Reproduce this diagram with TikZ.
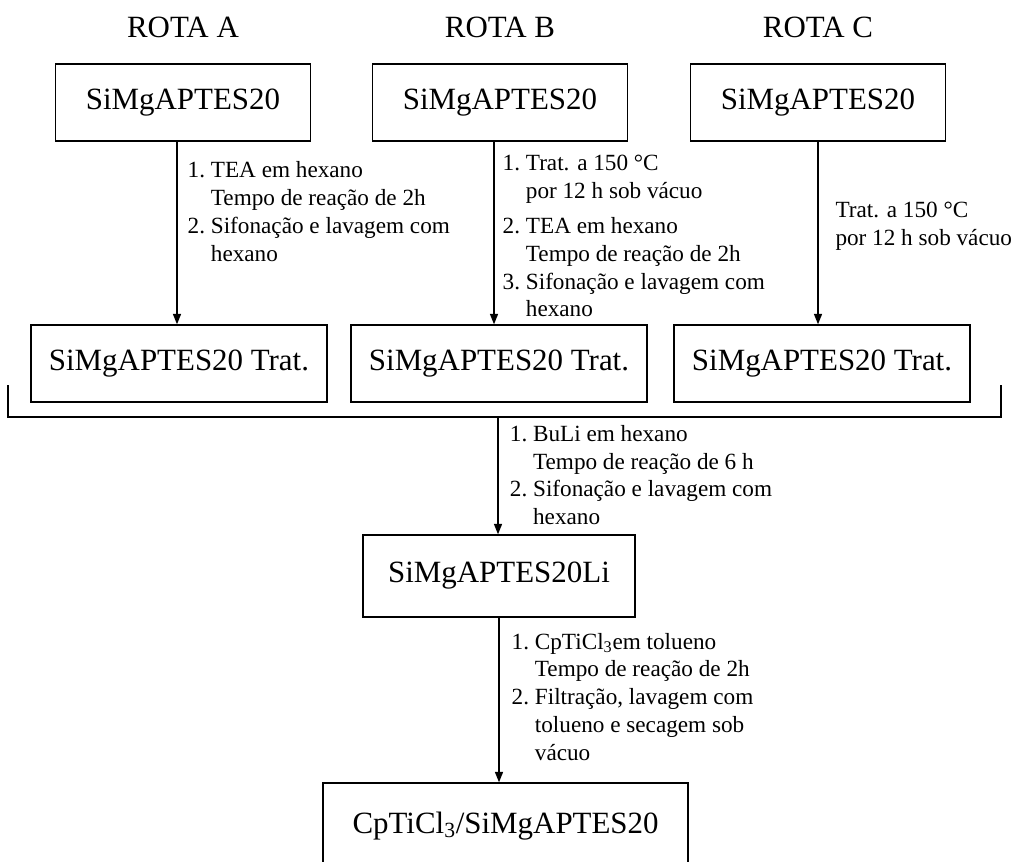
\documentclass[tikz,border=0pt]{standalone}
\usepackage{fontspec}
\setmainfont{Liberation Serif}
\usetikzlibrary{arrows.meta, positioning}
\tikzset{
  every picture/.style={line width=1pt},
  box/.style={draw, align=center, inner sep=0pt, font=\fontsize{22}{26}\selectfont},
  arrow/.style={-{Triangle[length=0.26cm, width=0.2cm]}},
  title/.style={font=\fontsize{22}{26}\selectfont},
  note/.style={font=\fontsize{16.5}{19.8}\selectfont, align=left, inner sep=0pt},
}

\begin{document}
\begin{tikzpicture}[top/.style={box, minimum width=6.375cm, minimum height=1.925cm},
                    trat/.style={box, minimum width=7.4cm, minimum height=1.925cm}]
  \useasboundingbox (0,0) rectangle (25.35,-21.525);
  % routes
  \node[top] (topA) at (4.575,-2.5625) {SiMgAPTES20};
  \node[top] (topB) at (12.5,-2.5625)  {SiMgAPTES20};
  \node[top] (topC) at (20.45,-2.5625) {SiMgAPTES20};
  \node[title, above=0.5cm of topA] (rotaA) {ROTA A};
  \node[title, above=0.5cm of topB] (rotaB) {ROTA B};
  \node[title, above=0.5cm of topC] (rotaC) {ROTA C};
  \node[trat] (tratA) at (4.475,-9.0875) {SiMgAPTES20 Trat.};
  \node[trat] (tratB) at (12.475,-9.0875) {SiMgAPTES20 Trat.};
  \node[trat] (tratC) at (20.55,-9.0875) {SiMgAPTES20 Trat.};
  \draw[arrow] ([xshift=-0.15cm]topA.south) -- ([xshift=-0.15cm]topA.south |- tratA.north);
  \draw[arrow] ([xshift=-0.15cm]topB.south) -- ([xshift=-0.15cm]topB.south |- tratB.north);
  \draw[arrow] (topC.south) -- (topC.south |- tratC.north);
  \node[note, below right=0.4cm and 0.1cm of topA.south] (stepA)
    {\begin{tabular}{@{}l@{\ }l@{}}1.&TEA em hexano\\&Tempo de reação de 2h\\2.&Sifonação e lavagem com\\&hexano\end{tabular}};
  \node[note, below right=0.22cm and 0.05cm of topB.south] (stepB)
    {\begin{tabular}{@{}l@{\ }l@{}}1.&Trat. a 150 °C\\&por 12 h sob vácuo\\[5pt]2.&TEA em hexano\\&Tempo de reação de 2h\\3.&Sifonação e lavagem com\\&hexano\end{tabular}};
  \node[note, below right=1.5cm and 0.42cm of topC.south] (stepC)
    {Trat. a 150 °C\\por 12 h sob vácuo};
  % bracket joining the three routes
  \coordinate (brA) at (0.2,-9.625);
  \coordinate (brB) at (25.025,-9.625);
  \coordinate (join) at (12.45,-10.425);
  \draw (brA) |- (join) -| (brB);
  \node[box, minimum width=6.8cm, minimum height=2.05cm] (li) at (12.475,-14.4) {SiMgAPTES20Li};
  \draw[arrow] (join) -- (join |- li.north);
  \node[note, below right=0.1cm and 0.28cm of join] (stepLi)
    {\begin{tabular}{@{}l@{\ }l@{}}1.&BuLi em hexano\\&Tempo de reação de 6 h\\2.&Sifonação e lavagem com\\&hexano\end{tabular}};
  \node[box, minimum width=9.125cm, minimum height=2.15cm] (cat) at (12.64,-20.65) {CpTiCl\textsubscript{3}/SiMgAPTES20};
  \draw[arrow] (li.south) -- (li.south |- cat.north);
  \node[note, below right=0.28cm and 0.3cm of li.south] (stepCat)
    {\begin{tabular}{@{}l@{\ }l@{}}1.&CpTiCl\textsubscript{3}em tolueno\\&Tempo de reação de 2h\\2.&Filtração, lavagem com\\&tolueno e secagem sob\\&vácuo\end{tabular}};
\end{tikzpicture}
\end{document}
